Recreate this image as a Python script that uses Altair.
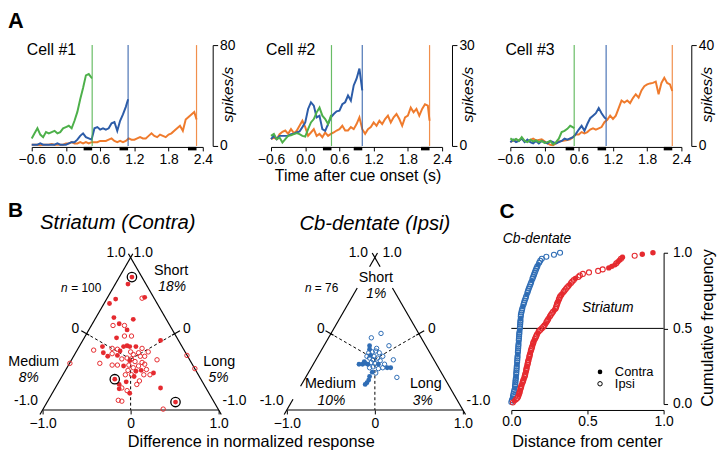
import math
import altair as alt
import pandas as pd

FONT = "Liberation Sans"
GREEN, BLUE, ORANGE = "#4DB04A", "#2C5CA8", "#EF7B2D"
RED_PT, BLUE_PT = "#E52A2F", "#2F6DB5"

# ---------------- Panel A: firing rates (spikes/s), sampled every 50 ms from -0.6 s ----------------
T_START, T_STEP = -0.6, 0.05

cell1_short = [6, 10, 14, 9, 7, 11, 10, 11, 12, 10, 11, 14, 15, 16, 14, 20, 27, 37, 46, 56, 57, 54]
cell1_medium = [1, 1, 1, 2, 1, 1, 1, 1, 1, 2, 1, 1, 1,
                2, 3, 3, 5, 8, 10, 7, 6, 5, 14, 15, 13, 14, 13, 14, 18, 19, 12, 20, 25, 31]
cell1_long = [1, 1, 1, 0.5, 1, 1, 1, 1.5, 1, 1, 1, 1, 2,
              2, 3, 2, 2, 3, 2, 3, 2, 3, 3,
              3, 4, 4, 4, 5, 6, 4, 3, 4, 3,
              4, 6, 5, 5, 6, 7, 6, 6, 8, 10,
              8, 7, 9, 8, 7, 9, 10, 12, 14, 16,
              12, 21, 23, 25, 27]
cell1_end_t = [0.46, 1.09, 2.29]
cell1_end_r = [54, 37, 21]

cell2_short = [3, 3.6, 2, 2.5, 1, 2, 3, 3.2, 3.5, 3.8, 3.5, 3, 2.8, 5, 7, 8, 10, 11.4, 9, 8, 6.5, 9]
cell2_medium = [2, 3, 2, 3, 3, 3, 3, 3.5, 3.6, 4, 4.3, 5.6, 7,
                11, 13, 12, 8.5, 9, 5, 4.5, 6.5, 8.5, 9.5, 10.3, 10.5, 12.4, 13, 15, 13.5, 18, 20, 23]
cell2_long = [2, 2.5, 2, 3.5, 4.2, 4.6, 3.6, 5, 3.8, 4.5, 6, 7.5, 5.6,
              3, 4, 5, 3, 3.6, 2.6, 4, 3, 3.6, 4, 4.6, 5, 6, 4.6, 4.6, 5.6, 5, 6.5, 8.5, 5,
              3.6, 5, 5.6, 7, 6, 7.5, 6.5, 8, 9, 7, 8.5, 9.5, 8, 6, 8.5, 9, 11.4, 10, 11, 9,
              11, 12.4, 12]
cell2_end_t = [0.46, 1.0, 2.18]
cell2_end_r = [9, 16.5, 7.5]

cell3_short = [3, 2.2, 2.8, 2, 3.5, 2, 1.5, 2.5, 1.8, 2.2, 1.5, 2, 1.2,
               1.5, 2, 0.6, 1.5, 2.9, 5.5, 6, 6.8, 8, 7.4]
cell3_medium = [1.5, 2.5, 1.5, 2, 3, 1.5, 2.5, 1.5, 1, 2, 1, 2, 1.5,
                1, 2, 1.5, 1, 1.5, 2, 2.9, 2.5, 3, 3.5, 4.8, 6.5, 8, 6, 8.7, 11, 12, 13, 15, 13, 11.3]
cell3_long = [1.6, 2, 2.5, 2.2, 2.9, 2, 1.8, 2.4, 2.9, 2.2, 2.4, 2.6, 1.8,
              1, 0.5, 0.3, 1, 1.8, 2, 2.2, 2.4, 2.6, 3.5, 4.5, 4.5, 5.5, 5, 5.5, 6.5, 7, 6.5, 7, 7.5,
              9.4, 10.4, 12, 10.7, 12, 15, 18, 17.2, 18, 17, 19, 20.5, 19.2, 22, 23.7, 24.4, 24.8, 25, 25.5, 20.5,
              25, 27, 25, 24.4]
cell3_end_t = [0.52, 1.08, 2.24]
cell3_end_r = [7, 10.7, 21.8]

cell_names = ["Cell #1", "Cell #2", "Cell #3"]
cell_max = [80, 30, 40]
CUE_BAR = 0.15  # length of black bars before each cue end

# ---------------- Panel B: triangle scatter (difference in normalized response) ----------------
stri_x = [0.015, -0.03, -0.17, 0.13, 0.16, -0.19, 0.03, -0.2, -0.13, -0.04,
          -0.07, 0.01, -0.16, 0.34, -0.32, -0.42, -0.31, -0.21, -0.08, -0.04,
          -0.01, 0.06, 0.13, -0.15, -0.12, -0.21, -0.15, 0.0, 0.03, 0.09,
          0.11, 0.16, -0.04, 0.01, 0.05, 0.13, 0.30, -0.35, -0.21, -0.15,
          -0.08, -0.02, 0.03, 0.09, 0.16, 0.18, 0.15, 0.22, 0.26, 0.01,
          -0.06, 0.04, -0.18, -0.13, -0.10, -0.13, -0.04, -0.01, 0.07, 0.34,
          -0.14, -0.10, 0.51, 0.37, -0.69, 0.64, 0.73, -0.07, -0.01, 0.06,
          -0.03, 0.12, -0.10, 0.20, -0.26, -0.05, 0.10, -0.24]
stri_y = [1.51, 1.43, 1.26, 1.27, 1.28, 1.05, 1.03, 0.96, 0.98, 0.91,
          0.84, 0.84, 0.82, 0.79, 0.72, 0.68, 0.65, 0.70, 0.72, 0.73,
          0.72, 0.72, 0.70, 0.69, 0.67, 0.64, 0.62, 0.66, 0.63, 0.65,
          0.61, 0.61, 0.59, 0.58, 0.55, 0.54, 0.57, 0.53, 0.51, 0.51,
          0.50, 0.51, 0.48, 0.50, 0.52, 0.46, 0.40, 0.40, 0.42, 0.40,
          0.40, 0.38, 0.35, 0.29, 0.25, 0.24, 0.22, 0.19, 0.29, 0.25,
          0.11, 0.10, 0.09, 0.01, 0.53, 0.62, 0.47, 0.96, 0.56, 0.44,
          0.45, 0.45, 0.58, 0.66, 0.61, 0.32, 0.33, 1.21]
stri_filled = [1, 1, 1, 0, 1, 1, 1, 0, 1, 1,
               0, 0, 1, 1, 1, 0, 1, 0, 1, 1,
               1, 1, 0, 0, 1, 0, 1, 0, 0, 0,
               0, 0, 0, 0, 0, 0, 0, 0, 0, 0,
               1, 0, 0, 0, 0, 0, 0, 0, 1, 0,
               0, 1, 1, 1, 0, 1, 0, 1, 0, 1,
               0, 0, 1, 0, 0, 0, 0, 0, 1, 1,
               0, 1, 0, 0, 1, 1, 0, 1]
stri_ring_x = [0.015, -0.18, 0.51]
stri_ring_y = [1.51, 0.35, 0.09]

cb_x = [0.07, -0.04, -0.06, 0.16, -0.06, -0.03, -0.07, 0.01, 0.05, -0.01,
        -0.06, -0.09, 0.03, 0.09, 0.21, -0.18, -0.14, -0.11, -0.08, -0.04,
        0.0, 0.04, 0.09, 0.14, 0.18, -0.06, -0.02, 0.04, -0.03, 0.01,
        -0.06, -0.07, -0.09, -0.11, 0.25, -0.12, 0.06, -0.02, 0.11, -0.05, 0.02]
cb_y = [0.87, 0.82, 0.73, 0.73, 0.69, 0.66, 0.65, 0.67, 0.65, 0.61,
        0.59, 0.61, 0.59, 0.61, 0.57, 0.52, 0.52, 0.53, 0.52, 0.54,
        0.53, 0.52, 0.48, 0.48, 0.48, 0.48, 0.49, 0.47, 0.43, 0.42,
        0.38, 0.34, 0.31, 0.29, 0.37, 0.55, 0.56, 0.57, 0.52, 0.62, 0.70]
cb_filled = [0, 0, 1, 0, 1, 0, 0, 0, 0, 0,
             0, 0, 0, 0, 0, 1, 1, 1, 1, 0,
             0, 1, 0, 1, 1, 0, 0, 0, 1, 0,
             1, 1, 1, 1, 0, 1, 0, 0, 0, 1, 0]

# ---------------- Panel C: cumulative distributions of distance from center ----------------
stri_dist = [0.01, 0.02, 0.03, 0.04,
             0.045, 0.05, 0.052, 0.055, 0.058, 0.06, 0.063,
             0.066, 0.07, 0.073, 0.077, 0.08, 0.084,
             0.087, 0.09, 0.092, 0.095, 0.097, 0.099, 0.101, 0.103, 0.106,
             0.108, 0.11, 0.113, 0.115, 0.118, 0.12, 0.123, 0.125, 0.128,
             0.131, 0.134, 0.137, 0.14, 0.143, 0.146, 0.15,
             0.155, 0.16, 0.164, 0.168, 0.174, 0.18,
             0.19, 0.2, 0.21,
             0.218, 0.225, 0.23, 0.236, 0.242, 0.247,
             0.254, 0.26, 0.267, 0.274, 0.282, 0.29,
             0.294, 0.297, 0.3, 0.304, 0.308, 0.312, 0.316, 0.32,
             0.328, 0.335, 0.343, 0.35, 0.358, 0.366,
             0.375, 0.384, 0.392, 0.4, 0.41, 0.42,
             0.44, 0.45, 0.47, 0.51,
             0.57, 0.6, 0.64, 0.66, 0.68, 0.69,
             0.7, 0.71, 0.72, 0.73,
             0.81, 0.86, 0.93]
stri_kind = ("OFOOOFOOFO" "OOFOOOFOOO" "FOOOFOOOOF" "OOOFOOOOFO" "OFOOOOFOOO"
             "OOFOOOFOOO" "OFOOOOOFOO" "OOFOOOOOFO" "OOFOOOOOOF" "FFOFFOFOFF")
cb_dist = [0.0, 0.004, 0.008, 0.011, 0.014, 0.017, 0.02,
           0.022, 0.024, 0.026, 0.027, 0.028, 0.03,
           0.031, 0.032, 0.033, 0.034, 0.035, 0.036, 0.037, 0.038, 0.039, 0.04,
           0.041, 0.042, 0.043, 0.044, 0.045, 0.046, 0.047, 0.048,
           0.049, 0.05, 0.051, 0.052, 0.053, 0.055, 0.056,
           0.057, 0.058, 0.059, 0.06, 0.061, 0.062, 0.063,
           0.066, 0.069, 0.072, 0.076, 0.08, 0.084,
           0.088, 0.093, 0.097, 0.102, 0.106,
           0.11, 0.115, 0.12, 0.125, 0.13, 0.135, 0.139,
           0.144, 0.149, 0.154, 0.159, 0.164, 0.17,
           0.176, 0.183, 0.19, 0.2,
           0.23, 0.28, 0.32]
cb_kind = ("OOFOOOOFOO" "OOOFOOOOOF" "OOOOFOOOOO" "FOOOOOFOOO" "OOFOOOOOFO"
           "OOOOFOOOOO" "OFOOOOOOOF" "OOOOOO")


def label_at(text, x, y, **kw):
    return alt.Chart(pd.DataFrame({"label": [text]})).mark_text(**kw).encode(
        text="label:N", x=alt.value(x), y=alt.value(y))


# ======================= Panel A =======================
A_W, A_H = 173, 102
xs_A = alt.Scale(domain=[-0.6, 2.4], nice=False, zero=False)
xaxis_A = alt.Axis(values=[-0.6, 0, 0.6, 1.2, 1.8, 2.4], format=".1f", title=None, offset=1,
                   tickSize=4, labelPadding=2, labelFlush=False, labelOverlap=False)
COLORS = [GREEN, BLUE, ORANGE]


def cell_panel(i, traces, end_t, end_r):
    ymax = cell_max[i]
    ys = alt.Scale(domain=[0, ymax], nice=False)
    yaxis = alt.Axis(orient="right", values=[0, ymax], format="d", title=None, offset=10,
                     tickSize=5, labelPadding=2, labelFlush=False, labelOverlap=False)
    layers = []
    for k in [2, 1, 0]:
        rates = traces[k]
        ts = [round(T_START + T_STEP * j, 3) for j in range(len(rates))] + [end_t[k]]
        df = pd.DataFrame({"t": ts, "r": list(rates) + [end_r[k]]})
        layers.append(alt.Chart(df).mark_line(color=COLORS[k], strokeWidth=2).encode(
            x=alt.X("t:Q", scale=xs_A, axis=xaxis_A), y=alt.Y("r:Q", scale=ys, axis=yaxis)))
    cue = pd.DataFrame({"t": end_t, "c": ["S", "M", "L"],
                        "t0": [t - CUE_BAR for t in end_t]})
    layers.append(alt.Chart(cue).mark_rule(strokeWidth=1.2, opacity=0.85).encode(
        x=alt.X("t:Q", scale=xs_A, axis=xaxis_A),
        color=alt.Color("c:N", scale=alt.Scale(domain=["S", "M", "L"], range=COLORS), legend=None)))
    layers.append(alt.Chart(cue).mark_rule(strokeWidth=3.5, color="black").encode(
        x=alt.X("t0:Q", scale=xs_A, axis=xaxis_A), x2="t:Q", y=alt.value(A_H + 2.7)))
    layers.append(label_at(cell_names[i], -5, 5, align="left", baseline="middle", fontSize=16))
    layers.append(label_at("spikes/s", 199, 50, angle=270, align="center", baseline="middle",
                           fontSize=15.5, fontStyle="italic"))
    if i == 0:
        layers.append(label_at("A", -24, -34, align="left", baseline="top", fontSize=22,
                               fontWeight="bold"))
    if i == 1:
        layers.append(label_at("Time after cue onset (s)", 88, 137, align="center",
                               baseline="alphabetic", fontSize=16))
    return alt.layer(*layers).properties(width=A_W, height=A_H)


a1 = cell_panel(0, [cell1_short, cell1_medium, cell1_long], cell1_end_t, cell1_end_r)
a2 = cell_panel(1, [cell2_short, cell2_medium, cell2_long], cell2_end_t, cell2_end_r)
a3 = cell_panel(2, [cell3_short, cell3_medium, cell3_long], cell3_end_t, cell3_end_r)

# ======================= Panel B =======================
S3 = math.sqrt(3)
PX = 89.0  # pixels per unit in triangles
B_H = 159
ys_B = alt.Scale(domain=[0, B_H / PX], nice=False, zero=False)
xaxis_B = alt.Axis(values=[-1, 0, 1], labelExpr="datum.value == 0 ? '0' : format(datum.value, '.1f')",
                   domain=False, tickSize=4, labelPadding=3, labelFlush=False, labelOverlap=False,
                   title=None)


def edge_point(side, s):
    return (-1 + s, s * S3) if side == "L" else (1 - s, s * S3)


def tri_frame(left_spans, right_spans):
    rows = []
    for side, spans in (("L", left_spans), ("R", right_spans)):
        for a, b in spans:
            (x1, y1), (x2, y2) = edge_point(side, a), edge_point(side, b)
            rows.append(dict(x=x1, y=y1, x2=x2, y2=y2))
    rows.append(dict(x=-1, y=0, x2=1, y2=0))
    for sgn in (-1, 1):
        mx, my = 0.5 * sgn, S3 / 2
        nx, ny = sgn * S3 / 2, 0.5
        rows.append(dict(x=mx - 0.035 * nx, y=my - 0.035 * ny, x2=mx + 0.07 * nx, y2=my + 0.07 * ny))
    return pd.DataFrame(rows)


def dashed_frame():
    cx, cy = 0, S3 / 3
    ends = [(-0.5, S3 / 2), (0.5, S3 / 2), (0, 0)]
    return pd.DataFrame([dict(x=cx, y=cy, x2=ex, y2=ey) for ex, ey in ends])


def tri_panel(xdom, left_spans, right_spans, px, py, pf, rx, ry, color, texts):
    xs = alt.Scale(domain=xdom, nice=False, zero=False)
    X = lambda f: alt.X(f, type="quantitative", scale=xs, axis=xaxis_B)
    Y = lambda f: alt.Y(f, type="quantitative", scale=ys_B, axis=None)
    layers = [
        alt.Chart(tri_frame(left_spans, right_spans)).mark_rule(color="black", strokeWidth=1.2).encode(
            x=X("x"), y=Y("y"), x2="x2:Q", y2="y2:Q"),
        alt.Chart(dashed_frame()).mark_rule(color="black", strokeWidth=1, strokeDash=[3, 2.5]).encode(
            x=X("x"), y=Y("y"), x2="x2:Q", y2="y2:Q"),
    ]
    pts = pd.DataFrame({"x": px, "y": py, "f": pf})
    layers.append(alt.Chart(pts).transform_filter(alt.datum.f == 0).mark_point(
        filled=False, size=20, strokeWidth=1, color=color, opacity=1).encode(x=X("x"), y=Y("y")))
    layers.append(alt.Chart(pts).transform_filter(alt.datum.f == 1).mark_circle(
        size=24, color=color, opacity=1).encode(x=X("x"), y=Y("y")))
    if rx:
        layers.append(alt.Chart(pd.DataFrame({"x": rx, "y": ry})).mark_point(
            filled=False, size=90, strokeWidth=1.3, color="black", opacity=1).encode(x=X("x"), y=Y("y")))
    for rows, kw in texts:
        df = pd.DataFrame(rows, columns=["x", "y", "label"])
        layers.append(alt.Chart(df).mark_text(**kw).encode(x=X("x"), y=Y("y"), text="label:N"))
    return layers


num_kw = dict(fontSize=14, baseline="middle")
lab_kw = dict(fontSize=14.5, baseline="middle", align="center")
pct_kw = dict(fontSize=14, baseline="middle", align="center", fontStyle="italic")
ttl_kw = dict(fontSize=20.5, baseline="middle", align="center", fontStyle="italic")

stri_texts = [
    ([(-0.056, 1.787, "1.0"), (-0.584, 0.918, "0"), (-1.053, 0.098, "-1.0")], dict(num_kw, align="right")),
    ([(0.034, 1.787, "1.0"), (0.596, 0.918, "0"), (1.045, 0.098, "-1.0")], dict(num_kw, align="left")),
    ([(0.461, 1.573, "Short"), (-1.101, 0.539, "Medium"), (1.007, 0.539, "Long")], lab_kw),
    ([(0.472, 1.393, "18%"), (-1.157, 0.36, "8%"), (1.0, 0.36, "5%")], pct_kw),
    ([(-0.79, 1.39, "n")], dict(fontSize=12, baseline="middle", align="left", fontStyle="italic")),
    ([(-0.674, 1.39, "= 100")], dict(fontSize=12, baseline="middle", align="left")),
    ([(-0.146, 2.124, "Striatum (Contra)")], ttl_kw),
]
cb_texts = [
    ([(-0.079, 1.787, "1.0"), (-0.57, 0.918, "0"), (-1.037, 0.098, "-1.0")], dict(num_kw, align="right")),
    ([(0.086, 1.787, "1.0"), (0.603, 0.918, "0"), (1.042, 0.098, "-1.0")], dict(num_kw, align="left")),
    ([(0.011, 1.494, "Short"), (-0.505, 0.292, "Medium"), (0.579, 0.292, "Long")], lab_kw),
    ([(0.017, 1.315, "1%"), (-0.494, 0.105, "10%"), (0.545, 0.105, "3%")], pct_kw),
    ([(-0.794, 1.39, "n")], dict(fontSize=12, baseline="middle", align="left", fontStyle="italic")),
    ([(-0.682, 1.39, "= 76")], dict(fontSize=12, baseline="middle", align="left")),
    ([(0.0, 2.117, "Cb-dentate (Ipsi)")], ttl_kw),
]

b1_layers = tri_panel([-1.1236, 1.2247], [(-0.03, 1.025)], [(-0.03, 1.025)],
                      stri_x, stri_y, stri_filled, stri_ring_x, stri_ring_y, RED_PT, stri_texts)
b1_layers.append(label_at("B", -24, -42, align="left", baseline="middle", fontSize=21, fontWeight="bold"))
b1_layers.append(label_at("Difference in normalized response", 222, 196, align="center",
                          baseline="alphabetic", fontSize=16.5))
b1 = alt.layer(*b1_layers).properties(width=209, height=B_H)

b2_layers = tri_panel([-1, 1], [(-0.03, 0.07), (0.156, 0.8), (0.94, 1.03)],
                      [(-0.03, 0.8), (0.94, 1.03)],
                      cb_x, cb_y, cb_filled, [], [], BLUE_PT, cb_texts)
b2 = alt.layer(*b2_layers).properties(width=178, height=B_H)

# ======================= Panel C =======================
C_W, C_H = 154, 153
xs_C = alt.Scale(domain=[0, 1], nice=False)
ys_C = alt.Scale(domain=[0, 1], nice=False)
xaxis_C = alt.Axis(values=[0, 0.5, 1], format=".1f", title=None, offset=6, tickSize=4,
                   labelPadding=1, labelFlush=False, labelOverlap=False)
yaxis_C = alt.Axis(orient="right", values=[0, 0.5, 1], format=".1f", title=None, tickSize=4,
                   labelPadding=5, labelFlush=False, labelOverlap=False)


def cdf_df(dist, kind):
    n = len(dist)
    return pd.DataFrame({"d": dist, "q": [(j + 1) / n for j in range(n)], "k": list(kind)})


c_layers = [alt.Chart(pd.DataFrame({"y": [0.5]})).mark_rule(color="black", strokeWidth=1).encode(
    y=alt.Y("y:Q", scale=ys_C, axis=yaxis_C))]
for dist, kind, col in ((cb_dist, cb_kind, BLUE_PT), (stri_dist, stri_kind, RED_PT)):
    df = cdf_df(dist, kind)
    enc = dict(x=alt.X("d:Q", scale=xs_C, axis=xaxis_C), y=alt.Y("q:Q", scale=ys_C, axis=yaxis_C))
    c_layers.append(alt.Chart(df).transform_filter(alt.datum.k == "O").mark_point(
        filled=False, size=26, strokeWidth=1.1, color=col, opacity=1).encode(**enc))
    c_layers.append(alt.Chart(df).transform_filter(alt.datum.k == "F").mark_circle(
        size=30, color=col, opacity=1).encode(**enc))

c_layers += [
    label_at("C", -12, -41, align="left", baseline="middle", fontSize=21, fontWeight="bold"),
    label_at("Cb-dentate", -8.7, -13.7, align="left", baseline="middle", fontSize=14, fontStyle="italic"),
    label_at("Striatum", 97.5, 56.3, align="center", baseline="middle", fontSize=14, fontStyle="italic"),
    alt.Chart(pd.DataFrame({"a": [1]})).mark_circle(size=22, color="black", opacity=1).encode(
        x=alt.value(89.7), y=alt.value(120.5)),
    alt.Chart(pd.DataFrame({"a": [1]})).mark_point(size=20, strokeWidth=1, color="black", opacity=1,
                                                   filled=False).encode(x=alt.value(89.7), y=alt.value(132.5)),
    label_at("Contra", 104.7, 120.5, align="left", baseline="middle", fontSize=13),
    label_at("Ipsi", 104.7, 132.5, align="left", baseline="middle", fontSize=13),
    label_at("Cumulative frequency", 199, 76, angle=270, align="center", baseline="middle", fontSize=16.5),
    label_at("Distance from center", 77, 196, align="center", baseline="alphabetic", fontSize=16.5),
]
c = alt.layer(*c_layers).properties(width=C_W, height=C_H)

rowA = alt.hconcat(a1, a2, a3, spacing=69, bounds="flush")
rowB = alt.hconcat(b1, b2, c, spacing=49, bounds="flush")

# nested rows count as zero height in a flush layout, so the row pitch goes into the spacing
ROW_PITCH = A_H + 108
chart = (alt.vconcat(rowA, rowB, spacing=ROW_PITCH, bounds="flush")
         .properties(padding=0)
         .configure(font=FONT)
         .configure_view(stroke=None)
         .configure_axis(grid=False, domainColor="black", tickColor="black", labelColor="black",
                         labelFontSize=14, labelFont=FONT, domainWidth=1, tickWidth=1))

chart.save("out.html", embed_options={"renderer": "svg", "actions": False})
